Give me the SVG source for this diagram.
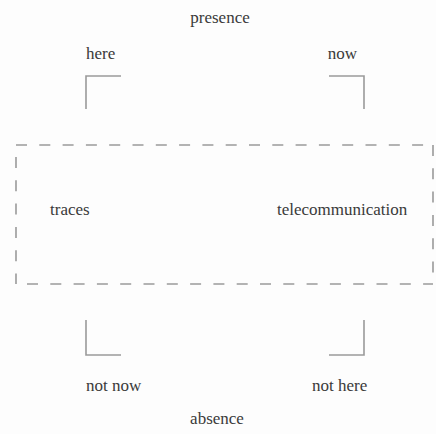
<svg xmlns="http://www.w3.org/2000/svg" width="436" height="434" viewBox="0 0 436 434">
<style>
text{font-family:"Liberation Serif","Times New Roman",serif;font-size:17px;fill:#3a3a3a}
.br{fill:none;stroke:#9a9a9a;stroke-width:1.6}
.dash{fill:none;stroke:#9a9a9a;stroke-width:1.6;stroke-dasharray:11 12.3}
</style>
<rect width="436" height="434" fill="#fdfdfd"/>
<g id="presence"><text x="220" y="23" text-anchor="middle">presence</text></g>
<g id="here"><text x="86" y="59">here</text></g>
<g id="now"><text x="357" y="59" text-anchor="end">now</text></g>
<g id="box">
<line class="dash" x1="16" y1="145" x2="433" y2="145"/>
<line class="dash" x1="433" y1="145" x2="433" y2="275"/>
<line class="dash" x1="16" y1="157" x2="16" y2="284"/>
<line class="dash" x1="27" y1="284" x2="433" y2="284"/>
</g>
<g id="traces"><text x="50" y="215">traces</text></g>
<g id="telecommunication"><text x="277" y="215">telecommunication</text></g>
<g id="not-now"><text x="86" y="391">not now</text></g>
<g id="not-here"><text x="312" y="391">not here</text></g>
<g id="absence"><text x="217" y="424" text-anchor="middle">absence</text></g>
<g id="connectors">
<polyline class="br" points="86,109 86,76 121,76"/>
<polyline class="br" points="329,76 364,76 364,109"/>
<polyline class="br" points="86,320 86,355 121,355"/>
<polyline class="br" points="329,355 364,355 364,320"/>
</g>
</svg>
